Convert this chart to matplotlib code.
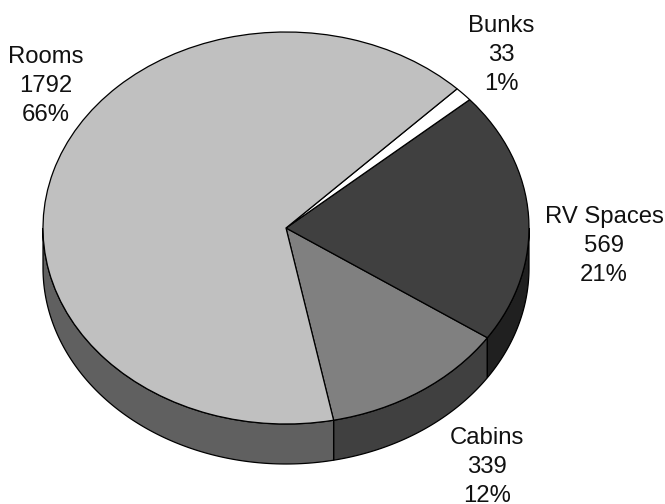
import numpy as np
import matplotlib
matplotlib.use('Agg')
import matplotlib.pyplot as plt
from matplotlib.patches import Polygon

plt.rcParams['font.family'] = ['Liberation Sans', 'DejaVu Sans']

# Drawn counter-clockwise from the bottom of the pie
categories = ['Cabins', 'RV Spaces', 'Bunks', 'Rooms']
values = [339, 569, 33, 1792]
percents = [12, 21, 1, 66]
top_colors = ['#808080', '#404040', '#ffffff', '#c0c0c0']
side_colors = ['#404040', '#202020', '#ffffff', '#606060']

W, H = 665, 504
cx, cy = 286, 228
rx, ry = 243, 196
depth = 40 / ry
start = -78.7

fig = plt.figure(figsize=(W / 100, H / 100), dpi=100)
ax = fig.add_axes([0, 0, 1, 1])

# Extruded rim first, only the part facing the viewer
fracs = np.array(values) / sum(values)
edges = start + 360 * np.concatenate([[0], np.cumsum(fracs)])
for i in range(len(values)):
    # Rooms wraps past the left side, so test both turns of the angle
    for shift in (0, -360):
        a = max(edges[i] + shift, -180)
        b = min(edges[i + 1] + shift, 0)
        if b <= a:
            continue
        t = np.radians(np.linspace(a, b, 120))
        x, y = np.cos(t), np.sin(t)
        pts = np.vstack([np.column_stack([x, y]),
                         np.column_stack([x[::-1], y[::-1] - depth])])
        ax.add_patch(Polygon(pts, closed=True, facecolor=side_colors[i],
                             edgecolor='black', linewidth=0.9, zorder=1))

# Top face
ax.pie(values, colors=top_colors, startangle=start, counterclock=True,
       radius=1, center=(0, 0), frame=False,
       wedgeprops={'edgecolor': 'black', 'linewidth': 0.9, 'zorder': 2})

ax.set_aspect('auto')
ax.set_xlim(-cx / rx, (W - cx) / rx)
ax.set_ylim(-(H - cy) / ry, cy / ry)
ax.axis('off')

# Labels, placed in pixel coordinates
label_pos = [(487, 467), (604, 246), (501, 55), (46, 86)]
for name, v, p, (lx, ly) in zip(categories, values, percents, label_pos):
    ax.text(lx, H - ly, f'{name}\n{v}\n{p}%', transform=None, fontsize=17.2,
            ha='center', va='center', linespacing=1.4, color='#111111',
            zorder=5)

fig.savefig('out.png', dpi=100)
